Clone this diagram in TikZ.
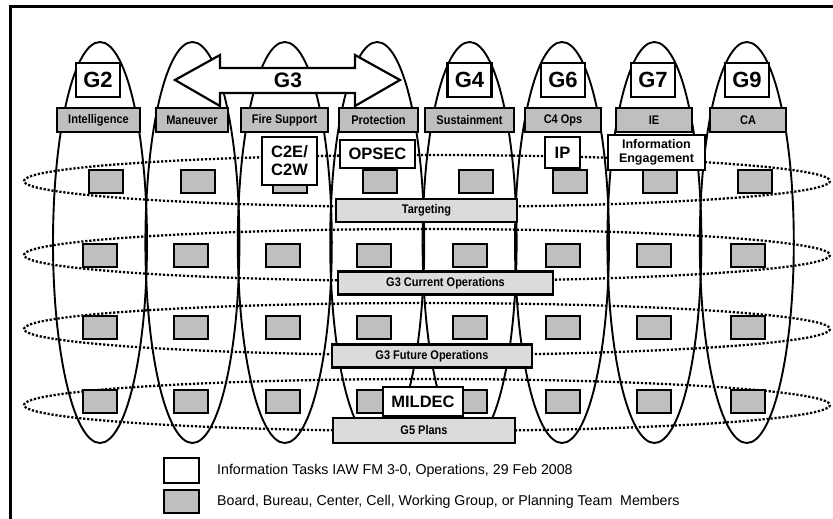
\documentclass[tikz,border=0pt]{standalone}
\usepackage{fontspec}
\setmainfont{Liberation Sans}
\newfontfamily\narrowsans[FakeStretch=0.88]{Liberation Sans}
\usetikzlibrary{positioning}

\begin{document}
\begin{tikzpicture}[
    x=1pt, y=-1pt,
    every node/.style={inner sep=0pt, font=\bfseries},
    catbox/.style={draw, line width=2pt, fill=gray!50, minimum height=24pt, font=\narrowsans\bfseries\fontsize{12.5}{13}\selectfont},
    gbox/.style={draw, line width=2.2pt, fill=white, minimum width=44pt, minimum height=34pt, font=\bfseries\fontsize{22}{24}\selectfont},
    taskbox/.style={draw, line width=2.8pt, fill=white, align=center, font=\bfseries\fontsize{16.5}{18}\selectfont},
    memberbox/.style={draw, line width=2pt, fill=gray!50, minimum width=34pt, minimum height=23pt},
    bandbox/.style={draw, line width=2.2pt, fill=gray!28, minimum height=23pt, font=\narrowsans\bfseries\fontsize{12.5}{13}\selectfont},
    legendtext/.style={anchor=west, font=\fontsize{14.2}{16}\selectfont},
    lane/.style={line width=1.9pt},
    loop/.style={line width=2.3pt, dash pattern=on 2.2pt off 1.8pt}
]
\clip (0,0) rectangle (833,519);
\draw[line width=3pt] (10,7) rectangle (860,560);

% horizontal loops
\foreach \y in {181,255,329,405}
  \draw[loop] (427,\y) ellipse [x radius=403, y radius=26];

% vertical lanes
\foreach \x in {100,192.4,284.8,377.2,469.6,562,654.4,746.8}
  \draw[lane] (\x,242.5) ellipse [x radius=47, y radius=200.5];

% members
\foreach \x [count=\c] in {106,198,290,380,476,570,660,755}
  \node[memberbox] (m1-\c) at (\x,181.5) {};
\foreach \y [count=\r from 2] in {255,327,401}
  \foreach \x [count=\c] in {100,191,283,374,470,563,654,748}
    \node[memberbox] (m\r-\c) at (\x,\y) {};

% bands
\node[bandbox, minimum width=181pt] (targeting) at (426.5,210.5) {Targeting};
\node[bandbox, minimum width=215pt] (current) at (445.5,283) {G3 Current Operations};
\node[bandbox, minimum width=200pt] (future) at (432,356) {G3 Future Operations};
\node[bandbox, minimum width=182pt, minimum height=25pt] (plans) at (424,430.5) {G5 Plans};

% functions
\node[catbox, minimum width=83pt] (intel) at (98.5,120) {Intelligence};
\node[catbox, minimum width=72pt] (maneuver) at (192,120) {Maneuver};
\node[catbox, minimum width=87pt] (fires) at (284.5,120) {Fire Support};
\node[catbox, minimum width=79pt] (protection) at (378.5,120) {Protection};
\node[catbox, minimum width=89pt] (sustain) at (469.5,120) {Sustainment};
\node[catbox, minimum width=76pt] (c4ops) at (563,120) {C4 Ops};
\node[catbox, minimum width=76pt] (ie) at (654,120) {IE};
\node[catbox, minimum width=76pt] (ca) at (748,120) {CA};

% staff sections
\node[gbox] (g2) at (98,80) {G2};
\node[gbox] (g4) at (469.5,80) {G4};
\node[gbox] (g6) at (563,80) {G6};
\node[gbox] (g7) at (653,80) {G7};
\node[gbox] (g9) at (747,80) {G9};
\draw[line width=2.2pt, fill=white] (175,80) -- (220,55) -- (220,68) -- (355,68) -- (355,55)
  -- (400,80) -- (355,106) -- (355,93) -- (220,93) -- (220,106) -- cycle;
\node[font=\bfseries\fontsize{21}{24}\selectfont] (g3) at (288,80) {G3};

% information tasks
\node[taskbox, minimum width=55pt, minimum height=48pt] (c2e) at (289.5,161) {C2E/\\C2W};
\node[taskbox, minimum width=75pt, minimum height=28pt] (opsec) at (377.5,154) {OPSEC};
\node[taskbox, minimum width=35pt, minimum height=31pt] (ip) at (562.5,152.5) {IP};
\node[taskbox, minimum width=97pt, minimum height=35pt, font=\bfseries\fontsize{12.5}{14}\selectfont] (infoeng) at (656.5,152.5) {Information\\Engagement};
\node[taskbox, minimum width=80pt, minimum height=29pt] (mildec) at (423,401.5) {MILDEC};

% legend
\node[draw, line width=2.8pt, fill=white, minimum width=35pt, minimum height=25pt] (keytask) at (181.5,470.5) {};
\node[memberbox, line width=2.8pt, minimum width=35pt, minimum height=23pt] (keymember) at (181.5,501.5) {};
\node[legendtext] (keytasktext) at (217,471) {Information Tasks IAW FM 3-0, Operations, 29 Feb 2008};
\node[legendtext] (keymembertext) at (217,502) {Board, Bureau, Center, Cell, Working Group, or Planning Team\ \ Members};
\end{tikzpicture}
\end{document}
